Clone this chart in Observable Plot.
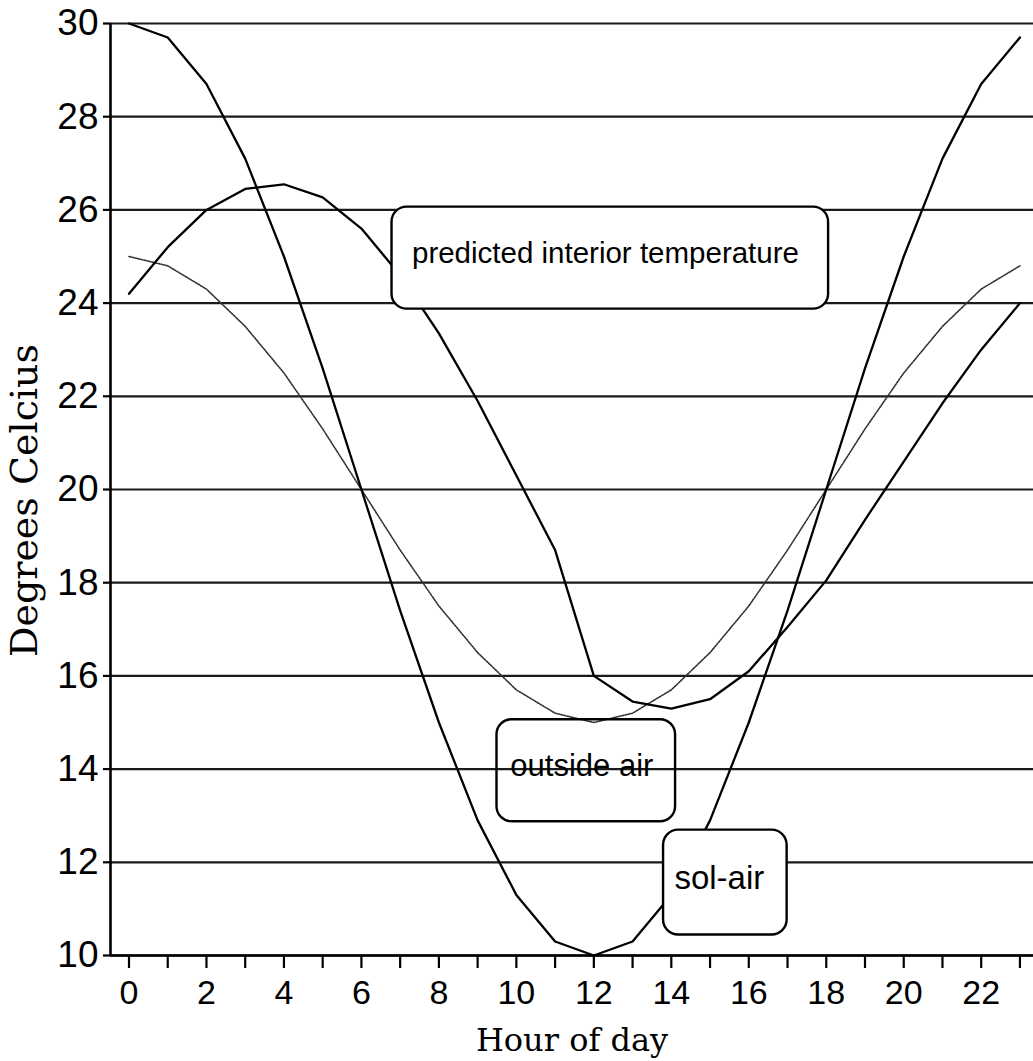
<!DOCTYPE html>
<html>
<head>
<meta charset="utf-8">
<script src="https://cdn.jsdelivr.net/npm/d3@7"></script>
<script src="https://cdn.jsdelivr.net/npm/@observablehq/plot@0.6"></script>
<style>
  html, body { margin: 0; padding: 0; background: #fff; }
  svg { display: block; }
</style>
</head>
<body>
<div id="chart"></div>
<script>
// ---- data ----
const hours      = [0, 1, 2, 3, 4, 5, 6, 7, 8, 9, 10, 11, 12, 13, 14, 15, 16, 17, 18, 19, 20, 21, 22, 23];
const solAir     = [30.0, 29.7, 28.7, 27.1, 25.0, 22.6, 20.0, 17.4, 15.0, 12.9, 11.3, 10.3, 10.0, 10.3, 11.3, 12.9, 15.0, 17.4, 20.0, 22.6, 25.0, 27.1, 28.7, 29.7];
const outsideAir = [25.0, 24.8, 24.3, 23.5, 22.5, 21.3, 20.0, 18.7, 17.5, 16.5, 15.7, 15.2, 15.0, 15.2, 15.7, 16.5, 17.5, 18.7, 20.0, 21.3, 22.5, 23.5, 24.3, 24.8];
const interior   = [24.2, 25.2, 26.0, 26.45, 26.55, 26.27, 25.6, 24.6, 23.35, 21.9, 20.3, 18.7, 16.0, 15.45, 15.3, 15.5, 16.1, 17.05, 18.05, 19.35, 20.6, 21.85, 23.0, 24.0];
const yTicks     = [10, 12, 14, 16, 18, 20, 22, 24, 26, 28, 30];
const xLabelHours = [0, 2, 4, 6, 8, 10, 12, 14, 16, 18, 20, 22];

// annotation boxes (in data units: hour / degrees)
const noteLabels = ["predicted interior temperature", "outside air", "sol-air"];
const noteX1 = [6.79, 9.50, 13.80];
const noteX2 = [18.06, 14.11, 16.99];
const noteY1 = [23.87, 12.87, 10.44];
const noteY2 = [26.06, 15.06, 12.69];
const noteTX = [12.30, 11.69, 15.24];
const noteTY = [25.07, 14.06, 11.66];

const xDomain = [-0.4775, 23.35];
const yDomain = [10, 30];

const rows = hours.map((h, i) => ({hour: h, solAir: solAir[i], outside: outsideAir[i], interior: interior[i]}));
const notes = noteLabels.map((l, i) => ({label: l, x1: noteX1[i], x2: noteX2[i], y1: noteY1[i], y2: noteY2[i], tx: noteTX[i], ty: noteTY[i]}));
const filledNotes = notes.filter(d => d.label !== "outside air");
const openNotes = notes.filter(d => d.label === "outside air");
const noteSize = {"predicted interior temperature": 29.5, "outside air": 31, "sol-air": 33};

const sans = "'Liberation Sans', Arial, Helvetica, sans-serif";
const serif = "'DejaVu Serif', serif";

const chart = Plot.plot({
  width: 1033,
  height: 1061,
  marginLeft: 110,
  marginRight: 0,
  marginTop: 23,
  marginBottom: 106,
  x: {domain: xDomain, label: null},
  y: {domain: yDomain, label: null},
  style: {fontFamily: sans, background: "white", color: "black", overflow: "visible"},
  marks: [
    Plot.ruleY(yTicks, {stroke: "#1a1a1a", strokeWidth: 2.2}),
    Plot.line(rows, {x: "hour", y: "outside", stroke: "#333", strokeWidth: 1.6, strokeDasharray: "1.6 1.4"}),
    Plot.line(rows, {x: "hour", y: "solAir", stroke: "black", strokeWidth: 2.3}),
    Plot.line(rows, {x: "hour", y: "interior", stroke: "black", strokeWidth: 2.3}),
    Plot.rect(filledNotes, {x1: "x1", x2: "x2", y1: "y1", y2: "y2", rx: 15, ry: 15, fill: "white", stroke: "black", strokeWidth: 2.4}),
    Plot.rect(openNotes, {x1: "x1", x2: "x2", y1: "y1", y2: "y2", rx: 15, ry: 15, fill: "none", stroke: "black", strokeWidth: 2.4}),
    ...notes.map(n => Plot.text([n], {x: "tx", y: "ty", text: "label", fontSize: noteSize[n.label], fontFamily: sans, fill: "black", textAnchor: "middle", lineAnchor: "middle"})),
    Plot.axisY({ticks: yTicks, tickSize: 7, tickPadding: 5, fontSize: 37, fontFamily: sans, tickFormat: d => String(d), label: null, strokeWidth: 2.2}),
    Plot.axisX({ticks: hours, tickSize: 13, tickPadding: 11, fontSize: 34, fontFamily: sans, tickFormat: d => xLabelHours.includes(d) ? String(d) : "", label: null, strokeWidth: 2.2}),
    Plot.ruleX([xDomain[0]], {stroke: "black", strokeWidth: 2.6}),
    Plot.ruleY([yDomain[0]], {stroke: "black", strokeWidth: 2.6}),
    Plot.text(["Degrees Celcius"], {text: d => d, frameAnchor: "left", textAnchor: "middle", lineAnchor: "middle", rotate: -90, dx: -85.5, dy: 11, fontSize: 38, fontFamily: serif, fill: "black"}),
    Plot.text(["Hour of day"], {text: d => d, frameAnchor: "bottom", textAnchor: "middle", lineAnchor: "middle", dy: 85, fontSize: 32, fontFamily: serif, fill: "black"})
  ]
});
document.getElementById("chart").appendChild(chart);
</script>
</body>
</html>
